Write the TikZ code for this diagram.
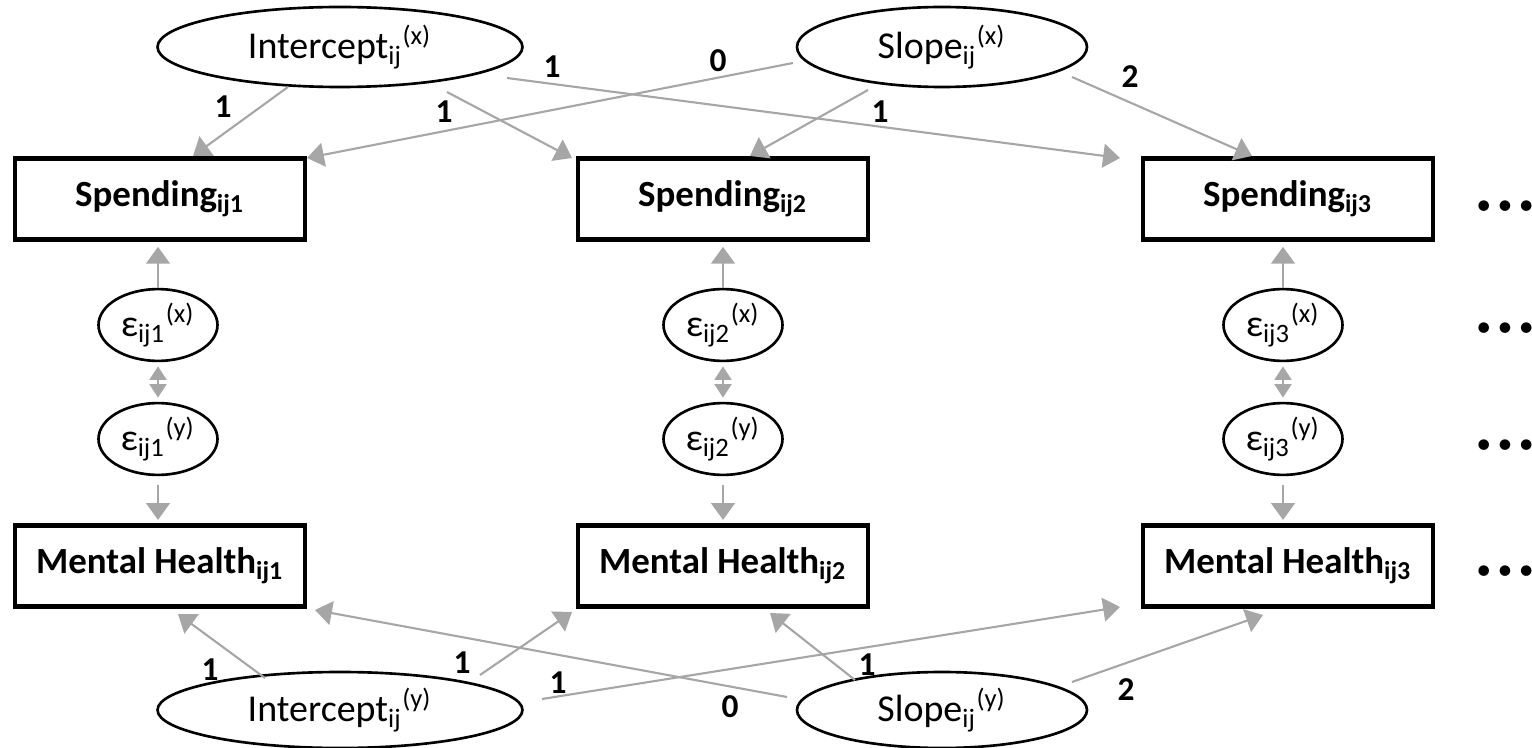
\documentclass[tikz,border=0pt]{standalone}
\usepackage{fontspec}
\setmainfont{Carlito}
\usetikzlibrary{positioning,arrows.meta,shapes.geometric}
\definecolor{lnkgray}{RGB}{166,166,166}
\tikzset{font=\fontsize{10.8}{12}\selectfont}

\begin{document}
\begin{tikzpicture}
	\useasboundingbox (0, 0) rectangle (15.32, -7.48);
	\begin{scope}
		\tikzstyle{every node}=[align=center, inner sep=1pt]
		\tikzstyle{latent}=[ellipse, draw, line width=0.75pt, minimum height=0.8cm]
		\tikzstyle{obs}=[draw, line width=1.4pt, minimum width=2.9cm, minimum height=0.81cm, font=\bfseries\fontsize{10.5}{12}\selectfont]
		\tikzstyle{res}=[ellipse, draw, line width=0.75pt, minimum width=1.19cm, minimum height=0.62cm]
		\tikzstyle{load}=[font=\bfseries\fontsize{9.5}{10}\selectfont]
		\tikzstyle{more}=[font=\fontsize{8.5}{9}\selectfont]
		\tikzstyle{lnk}=[draw=lnkgray, line width=0.6pt, -{Triangle[length=4.8pt, width=6.8pt]}]
		\tikzstyle{cov}=[draw=lnkgray, line width=0.6pt, {Triangle[length=3.8pt, width=4.8pt]}-{Triangle[length=3.8pt, width=4.8pt]}]

		% growth factors
		\node[latent, minimum width=3.65cm] (icx) at (3.4, -0.47) {Intercept\textsubscript{ij}\textsuperscript{(x)}};
		\node[latent, minimum width=2.9cm] (slx) at (9.42, -0.47) {Slope\textsubscript{ij}\textsuperscript{(x)}};
		\node[latent, minimum width=3.65cm, minimum height=0.76cm] (icy) at (3.4, -7.1) {Intercept\textsubscript{ij}\textsuperscript{(y)}};
		\node[latent, minimum width=2.9cm, minimum height=0.76cm] (sly) at (9.42, -7.1) {Slope\textsubscript{ij}\textsuperscript{(y)}};

		% repeated measures
		\node[obs] (sp1) at (1.6, -1.99) {Spending\textsubscript{ij1}};
		\node[obs] (sp2) at (7.23, -1.99) {Spending\textsubscript{ij2}};
		\node[obs] (sp3) at (12.88, -1.99) {Spending\textsubscript{ij3}};
		\node[obs] (mh1) at (1.6, -5.66) {Mental Health\textsubscript{ij1}};
		\node[obs] (mh2) at (7.23, -5.66) {Mental Health\textsubscript{ij2}};
		\node[obs] (mh3) at (12.88, -5.66) {Mental Health\textsubscript{ij3}};

		% residuals
		\node[res] (ex1) at (1.58, -3.25) {ε\textsubscript{ij1}\textsuperscript{(x)}};
		\node[res] (ex2) at (7.23, -3.25) {ε\textsubscript{ij2}\textsuperscript{(x)}};
		\node[res] (ex3) at (12.83, -3.25) {ε\textsubscript{ij3}\textsuperscript{(x)}};
		\node[res] (ey1) at (1.58, -4.39) {ε\textsubscript{ij1}\textsuperscript{(y)}};
		\node[res] (ey2) at (7.23, -4.39) {ε\textsubscript{ij2}\textsuperscript{(y)}};
		\node[res] (ey3) at (12.83, -4.39) {ε\textsubscript{ij3}\textsuperscript{(y)}};

		\node[more] (d1) at (15.05, -2.08) {•\kern1.8pt•\kern1.8pt•};
		\node[more] (d2) at (15.05, -3.3) {•\kern1.8pt•\kern1.8pt•};
		\node[more] (d3) at (15.05, -4.47) {•\kern1.8pt•\kern1.8pt•};
		\node[more] (d4) at (15.05, -5.73) {•\kern1.8pt•\kern1.8pt•};

		% loadings, spending
		\draw [lnk] ([shift={(-0.52, -0.4)}]icx.center) to ([shift={(0.33, 0.43)}]sp1.center);
		\draw [lnk] ([shift={(1.07, -0.45)}]icx.center) to ([shift={(-1.51, 0.41)}]sp2.center);
		\draw [lnk] ([shift={(1.67, -0.31)}]icx.center) to ([shift={(-1.68, 0.41)}]sp3.center);
		\draw [lnk] ([shift={(-1.49, -0.16)}]slx.center) to ([shift={(1.47, 0.41)}]sp1.center);
		\draw [lnk] ([shift={(-0.74, -0.43)}]slx.center) to ([shift={(0.27, 0.43)}]sp2.center);
		\draw [lnk] ([shift={(1.3, -0.3)}]slx.center) to ([shift={(-0.36, 0.43)}]sp3.center);

		% loadings, mental health
		\draw [lnk] ([shift={(-0.75, 0.32)}]icy.center) to ([shift={(0.18, -0.48)}]mh1.center);
		\draw [lnk] ([shift={(1.4, 0.35)}]icy.center) to ([shift={(-1.51, -0.46)}]mh2.center);
		\draw [lnk] ([shift={(2.02, 0.11)}]icy.center) to ([shift={(-1.68, -0.41)}]mh3.center);
		\draw [lnk] ([shift={(-1.55, 0.13)}]sly.center) to ([shift={(1.55, -0.44)}]mh1.center);
		\draw [lnk] ([shift={(-0.87, 0.3)}]sly.center) to ([shift={(0.47, -0.47)}]mh2.center);
		\draw [lnk] ([shift={(1.3, 0.28)}]sly.center) to ([shift={(-0.25, -0.49)}]mh3.center);

		% residual paths
		\draw [lnk, shorten >=1.4pt] (ex1.north) to (ex1.north |- sp1.south);
		\draw [lnk, shorten >=1.4pt] (ex2.north) to (ex2.north |- sp2.south);
		\draw [lnk, shorten >=1.4pt] (ex3.north) to (ex3.north |- sp3.south);
		\draw [lnk, shorten <=2.5pt, shorten >=0.9pt] (ey1.south) to (ey1.south |- mh1.north);
		\draw [lnk, shorten <=2.5pt, shorten >=0.9pt] (ey2.south) to (ey2.south |- mh2.north);
		\draw [lnk, shorten <=2.5pt, shorten >=0.9pt] (ey3.south) to (ey3.south |- mh3.north);
		\draw [cov, shorten <=1.2pt, shorten >=1.2pt] (ex1.south) to (ey1.north);
		\draw [cov, shorten <=1.2pt, shorten >=1.2pt] (ex2.south) to (ey2.north);
		\draw [cov, shorten <=1.2pt, shorten >=1.2pt] (ex3.south) to (ey3.north);

		\node[load] (lx1) at (2.23, -1.07) {1};
		\node[load] (lx2) at (4.44, -1.12) {1};
		\node[load] (lx3) at (5.52, -0.67) {1};
		\node[load] (lx4) at (7.18, -0.61) {0};
		\node[load] (lx5) at (8.8, -1.12) {1};
		\node[load] (lx6) at (11.3, -0.77) {2};
		\node[load] (ly1) at (2.1, -6.7) {1};
		\node[load] (ly2) at (4.62, -6.63) {1};
		\node[load] (ly3) at (5.58, -6.83) {1};
		\node[load] (ly4) at (7.3, -7.07) {0};
		\node[load] (ly5) at (8.67, -6.65) {1};
		\node[load] (ly6) at (11.26, -6.9) {2};
	\end{scope}
\end{tikzpicture}
\end{document}
